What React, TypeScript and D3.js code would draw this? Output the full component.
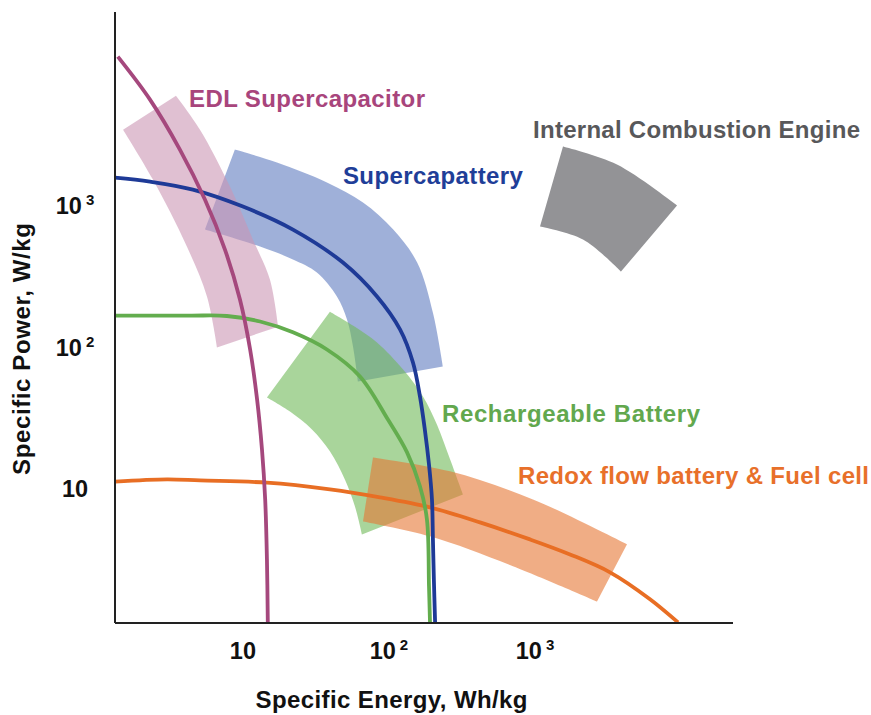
import React from 'react';
import * as d3 from 'd3';

type P = [number, number]; // [specific energy Wh/kg, specific power W/kg]

// Tick values and labels
const xTickValues = [10, 100, 1000];
const xTickSup = ['', '2', '3'];
const yTickValues = [10, 100, 1000];
const yTickSup = ['', '2', '3'];

// Ragone curves
const edlCurve: P[] = [[1.39, 11110], [2.31, 5520], [3.7, 2450], [5.49, 1085], [7.53, 481], [9.54, 213], [11.2, 94.5], [12.5, 41.9], [13.5, 18.6], [14.2, 8.23], [14.6, 3.1], [14.8, 1.11]];
const capatteryCurve: P[] = [[1.33, 1551], [2.31, 1454], [4.54, 1276], [10, 968], [22, 666], [48.4, 389], [82.8, 224], [119, 131], [146, 76.4], [163, 44], [176, 25.7], [188, 14.5], [197, 8.23], [200, 4.29], [203, 2.24], [207, 1.11]];
const batteryCurve: P[] = [[1.33, 164], [4.34, 164], [7.77, 163], [13.1, 149], [22, 125], [37.6, 94.5], [63.3, 60.9], [98.4, 30.2], [133, 17.7], [163, 10.2], [182, 5.94], [188, 2.0], [191, 1.11]];
const redoxCurve: P[] = [[1.33, 11.0], [3.02, 11.4], [5.08, 11.2], [14.6, 10.8], [39.4, 9.68], [86.8, 8.5], [191, 7.22], [420, 5.66], [924, 4.29], [1737, 3.36], [3264, 2.51], [6133, 1.62], [9540, 1.11]];

// Regions (outer edge and inner edge)
const edlBandOuter: P[] = [[3.48, 5893], [5.08, 3388], [8.15, 1341], [11.7, 566], [15.3, 295], [17.4, 137]];
const edlBandInner: P[] = [[1.51, 3388], [2.42, 1502], [4.13, 505], [5.67, 224], [6.64, 97.6]];
const capatteryBandOuter: P[] = [[8.81, 2447], [17.1, 1981], [37.6, 1431], [66.4, 1033], [107, 666], [156, 389], [200, 172], [234, 71.6]];
const capatteryBandInner: P[] = [[5.49, 666], [13.1, 505], [22, 409], [32.1, 331], [44, 224], [51.6, 154], [56.7, 99.2], [61.3, 56.1]];
const batteryBandOuter: P[] = [[39.4, 175], [58.5, 137], [82.8, 106], [125, 68.2], [171, 44], [213, 27.9], [262, 15.8], [321, 8.92]];
const batteryBandInner: P[] = [[14.6, 43.3], [21, 34.4], [29.7, 25.7], [39.4, 18], [49.9, 11.4], [58.5, 7.34], [65.3, 4.65]];
const redoxBandOuter: P[] = [[77.7, 16.3], [262, 13.0], [969, 8.23], [4267, 3.96]];
const redoxBandInner: P[] = [[66.4, 5.75], [191, 4.51], [707, 2.77], [2659, 1.56]];
const iceBandOuter: P[] = [[1555, 2570], [3643, 1917], [9389, 984]];
const iceBandInner: P[] = [[1082, 699], [2132, 566], [3882, 336]];

// Region label anchors (data space)
const labelNames = ['EDL Supercapacitor', 'Supercapattery', 'Internal Combustion Engine', 'Rechargeable Battery', 'Redox flow battery & Fuel cell'];
const labelAnchors: P[] = [[4.27, 4930], [48.4, 1407], [969, 2975], [231, 28.8], [765, 10.5]];

const W = 871;
const H = 715;
const FONT = 'Liberation Sans, Arial, Helvetica, sans-serif';

export default function App() {
  const x = d3.scaleLog().domain([1.33, 22700]).range([115, 733]);
  const y = d3.scaleLog().domain([1.1, 23000]).range([623, 12]);

  const line = d3
    .line<P>()
    .x((d) => x(d[0]))
    .y((d) => y(d[1]))
    .curve(d3.curveCatmullRom.alpha(0.5));

  const band = (outer: P[], inner: P[]) => {
    const a = line(outer) as string;
    const b = line([...inner].reverse()) as string;
    return a + 'L' + b.slice(1) + 'Z';
  };

  const labelStyles = [
    { color: '#a8457c', width: 236 },
    { color: '#1f3e98', width: 180 },
    { color: '#58585a', width: 327 },
    { color: '#62a84e', width: 258 },
    { color: '#e8702a', width: 351 },
  ];

  return (
    <svg
      width={W}
      height={H}
      style={{ position: 'absolute', left: 0, top: 0, background: '#fff' }}
      fontFamily={FONT}
      fontWeight="bold"
    >
      <rect x={0} y={0} width={W} height={H} fill="#fff" />
      {/* regions */}
      <path d={band(capatteryBandOuter, capatteryBandInner)} fill="#5f7bc0" fillOpacity={0.6} />
      <path d={band(edlBandOuter, edlBandInner)} fill="#cb96b4" fillOpacity={0.6} />
      <path d={band(batteryBandOuter, batteryBandInner)} fill="#70b958" fillOpacity={0.6} />
      <path d={band(redoxBandOuter, redoxBandInner)} fill="#e67634" fillOpacity={0.6} />
      <path d={band(iceBandOuter, iceBandInner)} fill="#939396" />

      {/* curves */}
      <path d={line(redoxCurve) as string} fill="none" stroke="#e86e24" strokeWidth={3.8} />
      <path d={line(batteryCurve) as string} fill="none" stroke="#63ad4e" strokeWidth={3.8} />
      <path d={line(capatteryCurve) as string} fill="none" stroke="#1e3a97" strokeWidth={3.8} />
      <path d={line(edlCurve) as string} fill="none" stroke="#a5487d" strokeWidth={3.8} />

      {/* axes */}
      <line x1={x.range()[0]} x2={x.range()[0]} y1={y.range()[1]} y2={y.range()[0]} stroke="#222" strokeWidth={2} />
      <line x1={x.range()[0]} x2={x.range()[1]} y1={y.range()[0]} y2={y.range()[0]} stroke="#222" strokeWidth={2} />

      {/* x tick labels */}
      {xTickValues.map((v, i) => (
        <text key={'xt' + i} x={x(v)} y={659} textAnchor="middle" fontSize={23.5} fill="#111">
          10
          {xTickSup[i] && (
            <tspan dx={4} dy={-9} fontSize={15}>
              {xTickSup[i]}
            </tspan>
          )}
        </text>
      ))}

      {/* y tick labels */}
      {yTickValues.map((v, i) => (
        <text key={'yt' + i} x={75} y={y(v) + 9.5} textAnchor="middle" fontSize={23.5} fill="#111">
          10
          {yTickSup[i] && (
            <tspan dx={4} dy={-9} fontSize={15}>
              {yTickSup[i]}
            </tspan>
          )}
        </text>
      ))}

      {/* axis titles */}
      <text x={391.5} y={708} textAnchor="middle" fontSize={24} fill="#111" textLength={272}>
        Specific Energy, Wh/kg
      </text>
      <text
        transform="translate(30,349) rotate(-90)"
        textAnchor="middle"
        fontSize={24}
        fill="#111"
        textLength={252}
      >
        Specific Power, W/kg
      </text>

      {/* region labels */}
      {labelNames.map((name, i) => (
        <text
          key={'lb' + i}
          x={x(labelAnchors[i][0])}
          y={y(labelAnchors[i][1])}
          fontSize={24}
          fill={labelStyles[i].color}
          textLength={labelStyles[i].width}
        >
          {name}
        </text>
      ))}
    </svg>
  );
}
